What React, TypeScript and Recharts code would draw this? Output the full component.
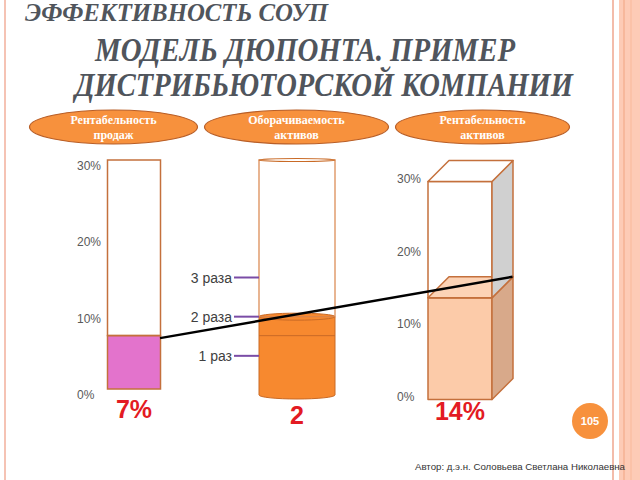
import { ComposedChart, Bar, XAxis, YAxis, Scatter, LabelList } from "recharts";

// DuPont model: sales margin x asset turnover = return on assets
const CATEGORIES = [
  "Рентабельность продаж",
  "Оборачиваемость активов",
  "Рентабельность активов",
];
const SALES_MARGIN = 7; // %
const ASSET_TURNOVER = 2; // times
const ROA = 14; // %
const PCT_MAX = 30;
const TURN_MAX = 6;
const PCT_TICKS = [0, 10, 20, 30];
const TURN_TICKS = [1, 2, 3];
const TURN_TICK_LABELS = ["1 раз", "2 раза", "3 раза"];

const rows = [
  { name: CATEGORIES[0], marginFill: SALES_MARGIN, marginRest: PCT_MAX - SALES_MARGIN },
  { name: CATEGORIES[1], turnFill: ASSET_TURNOVER, turnRest: TURN_MAX - ASSET_TURNOVER },
  { name: CATEGORIES[2], roaFill: ROA, roaRest: PCT_MAX - ROA },
];
const links = [
  { name: CATEGORIES[0], value: SALES_MARGIN },
  { name: CATEGORIES[2], value: ROA },
];

const SALES_W = 53;
const CYL_W = 76;
const BOX_W = 64;
const DEPTH = 21;
const EDGE = "#c4703c";
const SANS = "'Liberation Sans', Arial, sans-serif";
const SERIF = "'Liberation Serif', 'Times New Roman', serif";
const HEADER_NUDGE = [-20, 0, 23];
const HEADER_RX = [84, 92, 87];

const empty = (h: number) => !(Math.abs(h) > 0.5);

const flatShape = (fill: string) => (p: any) => {
  if (empty(p.height)) return <g />;
  const cx = p.x + p.width / 2;
  return (
    <rect x={cx - SALES_W / 2} y={p.y} width={SALES_W} height={p.height}
      fill={fill} stroke={EDGE} strokeWidth={1.5} />
  );
};

const cylFill = (p: any) => {
  if (empty(p.height)) return <g />;
  const cx = p.x + p.width / 2;
  const x0 = cx - CYL_W / 2;
  const x1 = cx + CYL_W / 2;
  const yb = p.y + p.height;
  return (
    <g>
      <path d={`M${x0},${p.y} L${x0},${yb} A${CYL_W / 2},4 0 0 0 ${x1},${yb} L${x1},${p.y} Z`}
        fill="#f7892f" stroke="#c96a26" strokeWidth={1} />
      <ellipse cx={cx} cy={p.y} rx={CYL_W / 2} ry={3.5} fill="#f7892f" stroke="#c96a26" strokeWidth={1} />
      <line x1={x0} x2={x1} y1={p.y + 19} y2={p.y + 19} stroke="#c96a26" strokeWidth={1} />
    </g>
  );
};

const cylRest = (p: any) => {
  if (empty(p.height)) return <g />;
  const cx = p.x + p.width / 2;
  const x0 = cx - CYL_W / 2;
  return (
    <g>
      <rect x={x0} y={p.y} width={CYL_W} height={p.height} fill="none" stroke="#d9844a" strokeWidth={1.2} />
      <ellipse cx={cx} cy={p.y} rx={CYL_W / 2} ry={1.5} fill="#fff" stroke="#c96a26" strokeWidth={1.2} />
    </g>
  );
};

const boxShape = (front: string, top: string, side: string) => (p: any) => {
  if (empty(p.height)) return <g />;
  const cx = p.x + p.width / 2;
  const x0 = cx - BOX_W / 2;
  const x1 = cx + BOX_W / 2;
  const fy = p.y + DEPTH / 2;
  const h = p.height;
  return (
    <g stroke={EDGE} strokeWidth={1.5} strokeLinejoin="round">
      <rect x={x0} y={fy} width={BOX_W} height={h} fill={front} />
      <polygon points={`${x1},${fy} ${x1 + DEPTH},${fy - DEPTH} ${x1 + DEPTH},${fy + h - DEPTH} ${x1},${fy + h}`} fill={side} />
      <polygon points={`${x0},${fy} ${x0 + DEPTH},${fy - DEPTH} ${x1 + DEPTH},${fy - DEPTH} ${x1},${fy}`} fill={top} />
    </g>
  );
};

const valueLabel = (suffix: string, extra: number) => (p: any) => {
  const vb = p.viewBox || p;
  if (p.value == null || empty(vb.height)) return <g />;
  return (
    <text x={vb.x + vb.width / 2} y={vb.y + vb.height + 29 + extra} textAnchor="middle"
      fontFamily={SANS} fontWeight="bold" fontSize={25} fill="#e31b23">
      {`${p.value}${suffix}`}
    </text>
  );
};

const pctTick = (left: number, dy: number) => (p: any) => (
  <text x={left} y={p.y + dy} fontFamily={SANS} fontSize={12} fill="#595959">
    {`${p.payload.value}%`}
  </text>
);

const turnTick = (p: any) => (
  <g>
    <text x={232} y={p.y + 5} textAnchor="end" fontFamily={SANS} fontSize={14} fill="#404040">
      {TURN_TICK_LABELS[TURN_TICKS.indexOf(p.payload.value)]}
    </text>
    <line x1={234} x2={259} y1={p.y} y2={p.y} stroke="#7a4ca6" strokeWidth={2} />
  </g>
);

const headerTick = (p: any) => {
  const i = CATEGORIES.indexOf(p.payload.value);
  const cx = p.x + HEADER_NUDGE[i];
  const cy = p.y - 25;
  const [first, ...rest] = String(p.payload.value).split(" ");
  return (
    <g>
      <ellipse cx={cx} cy={cy} rx={HEADER_RX[i]} ry={17} fill="#f7913d" stroke="#b85e27" strokeWidth={1.2} />
      <text x={cx} y={cy - 3} textAnchor="middle" fontFamily={SERIF} fontWeight="bold" fontSize={12} fill="#fff">
        {first}
      </text>
      <text x={cx} y={cy + 12} textAnchor="middle" fontFamily={SERIF} fontWeight="bold" fontSize={12} fill="#fff">
        {rest.join(" ")}
      </text>
    </g>
  );
};

const connector = (p: any) => {
  const pts = p.points || [];
  if (pts.length < 2) return <g />;
  const a = pts[0];
  const b = pts[pts.length - 1];
  return (
    <line x1={a.x + SALES_W / 2} y1={a.y} x2={b.x + BOX_W / 2 + DEPTH} y2={b.y - DEPTH / 2}
      stroke="#000" strokeWidth={2.5} />
  );
};

function Slide() {
  return (
    <svg width={640} height={480} style={{ position: "absolute", left: 0, top: 0 }}>
      <rect x={0} y={0} width={640} height={480} fill="#fff" />
      <line x1={5} x2={5} y1={0} y2={480} stroke="#f5c3b4" strokeWidth={2} />
      <line x1={613} x2={613} y1={0} y2={480} stroke="#f3bcaa" strokeWidth={2} />
      <rect x={619} y={0} width={21} height={480} fill="#fdcbb6" />
      <line x1={624} x2={624} y1={0} y2={480} stroke="#f7b89c" strokeWidth={2} />
      <line x1={631} x2={631} y1={0} y2={480} stroke="#fbc2a8" strokeWidth={2} />
      <g fontFamily={SERIF} fontStyle="italic" fontWeight="bold" fill="#50555c">
        <text x={25} y={21} fontSize={25} textLength={303} lengthAdjust="spacingAndGlyphs">
          ЭФФЕКТИВНОСТЬ СОУП
        </text>
        <text x={95} y={61} fontSize={34} textLength={420} lengthAdjust="spacingAndGlyphs">
          МОДЕЛЬ ДЮПОНТА. ПРИМЕР
        </text>
        <text x={75} y={96} fontSize={34} textLength={498} lengthAdjust="spacingAndGlyphs">
          ДИСТРИБЬЮТОРСКОЙ КОМПАНИИ
        </text>
      </g>
      <circle cx={590} cy={421} r={18} fill="#f7913d" />
      <text x={590} y={425} textAnchor="middle" fontFamily={SANS} fontWeight="bold" fontSize={11} fill="#fff">
        105
      </text>
      <text x={415} y={470} fontFamily={SANS} fontSize={9.5} fill="#333" textLength={210} lengthAdjust="spacingAndGlyphs">
        Автор: д.э.н. Соловьева Светлана Николаевна
      </text>
    </svg>
  );
}

export default function App() {
  return (
    <div style={{ position: "absolute", left: 0, top: 0, width: 640, height: 480 }}>
      <Slide />
      <div style={{ position: "absolute", left: 0, top: 0 }}>
        <ComposedChart width={640} height={480} data={rows} barSize={60} barGap={-60}
          margin={{ top: 110, right: 99, bottom: 85, left: 49 }}>
          <XAxis dataKey="name" type="category" orientation="top" height={50} interval={0}
            allowDuplicatedCategory={false} axisLine={false} tickLine={false} tick={headerTick} />
          <YAxis yAxisId="pctL" width={1} domain={[0, PCT_MAX]} ticks={PCT_TICKS} interval={0}
            padding={{ top: 0, bottom: 6 }} axisLine={false} tickLine={false} tick={pctTick(77, 10)} />
          <YAxis yAxisId="turn" width={1} domain={[0, TURN_MAX]} ticks={TURN_TICKS} interval={0}
            axisLine={false} tickLine={false} tick={turnTick} />
          <YAxis yAxisId="pctR" width={1} domain={[0, PCT_MAX]} ticks={PCT_TICKS} interval={0}
            padding={{ top: 11, bottom: 6 }} axisLine={false} tickLine={false} tick={pctTick(397, 12)} />

          <Bar yAxisId="pctL" dataKey="marginFill" stackId="L" isAnimationActive={false} shape={flatShape("#e373cc")}>
            <LabelList dataKey="marginFill" content={valueLabel("%", 0)} />
          </Bar>
          <Bar yAxisId="pctL" dataKey="marginRest" stackId="L" isAnimationActive={false} shape={flatShape("none")} />

          <Bar yAxisId="turn" dataKey="turnFill" stackId="M" isAnimationActive={false} shape={cylFill}>
            <LabelList dataKey="turnFill" content={valueLabel("", 0)} />
          </Bar>
          <Bar yAxisId="turn" dataKey="turnRest" stackId="M" isAnimationActive={false} shape={cylRest} />

          <Bar yAxisId="pctR" dataKey="roaFill" stackId="R" isAnimationActive={false}
            shape={boxShape("#fccba9", "#fcd3b6", "#d8a98a")}>
            <LabelList dataKey="roaFill" content={valueLabel("%", 2)} />
          </Bar>
          <Bar yAxisId="pctR" dataKey="roaRest" stackId="R" isAnimationActive={false}
            shape={boxShape("none", "#ffffff", "#d0d0d0")} />

          <Scatter yAxisId="pctR" data={links} dataKey="value" isAnimationActive={false}
            shape={() => <g />} line={connector} />
        </ComposedChart>
      </div>
    </div>
  );
}
